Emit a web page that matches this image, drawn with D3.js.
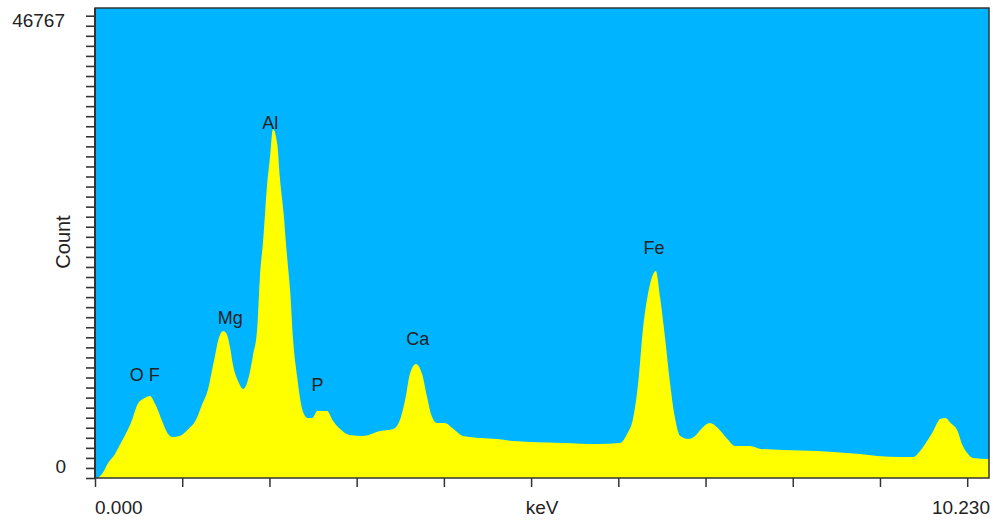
<!DOCTYPE html>
<html>
<head>
<meta charset="utf-8">
<script src="https://cdn.jsdelivr.net/npm/d3@7"></script>
<style>
  html, body { margin: 0; padding: 0; background: #ffffff; }
  svg { display: block; }
  text { font-family: Arial, "Liberation Sans", sans-serif; fill: #222; }
</style>
</head>
<body>
<svg id="chart" width="993" height="520"></svg>
<script>
// EDS spectrum: energy (keV) and counts per channel
const energy = [0.03, 0.08, 0.15, 0.23, 0.29, 0.34, 0.42, 0.49, 0.57, 0.63, 0.69, 0.77, 0.83, 0.89, 0.97,
  1.07, 1.15, 1.23, 1.30, 1.34, 1.38, 1.41, 1.47, 1.51, 1.55, 1.58, 1.64, 1.70, 1.75, 1.81, 1.86, 1.89, 1.93, 1.97,
  2.01, 2.04, 2.09, 2.12, 2.16, 2.20, 2.24, 2.27, 2.32, 2.35, 2.39, 2.44, 2.49, 2.55, 2.66, 2.73, 2.81, 2.92,
  3.07, 3.27, 3.42, 3.50, 3.56, 3.61, 3.68, 3.75, 3.81, 3.86, 3.92, 4.01, 4.11, 4.22, 4.42, 4.61, 4.79, 4.99,
  5.37, 5.76, 6.02, 6.10, 6.17, 6.23, 6.28, 6.34, 6.40, 6.43, 6.48, 6.54, 6.59, 6.65, 6.71, 6.80, 6.88, 6.96,
  7.05, 7.14, 7.25, 7.34, 7.51, 7.63, 7.89, 8.28, 8.46, 8.77, 8.97, 9.23, 9.38, 9.46, 9.54, 9.61, 9.69, 9.75,
  9.81, 9.89, 9.94, 10.00, 10.07, 10.25];
const counts = [0, 400, 1500, 2400, 3380, 4180, 5670, 7360, 7960, 8160, 7360, 5670, 4480, 4080, 4180,
  4880, 5670, 7360, 8960, 10650, 12340, 13630, 14630, 14330, 12940, 11340, 9650, 8860, 9650, 12140, 14930, 19900, 23880, 28860,
  32240, 34730, 33230, 29850, 26570, 22290, 18310, 13930, 9950, 7960, 6470, 5970, 5970, 6670, 6670, 5670, 4880, 4280,
  4180, 4680, 4880, 5870, 7960, 10350, 11340, 10350, 7960, 6170, 5470, 5470, 4880, 4180, 3980, 3880, 3680, 3580,
  3480, 3380, 3480, 4380, 5970, 9650, 14630, 18310, 20300, 20600, 17910, 13630, 9650, 5970, 4180, 3880, 4180, 4980,
  5470, 4980, 3880, 3180, 3180, 2890, 2790, 2690, 2590, 2390, 2190, 2090, 2090, 2690, 3680, 4680, 5870, 5970,
  5470, 4680, 3380, 2490, 1990, 1890];

// Element line labels: name, energy (keV), label baseline height (counts)
const peakNames = ["O F", "Mg", "Al", "P", "Ca", "Fe"];
const peakEnergy = [0.57, 1.55, 2.01, 2.55, 3.70, 6.41];
const peakLabelCounts = [9650, 15320, 34730, 8660, 13230, 22290];

// Axis settings
const countMax = 46767;
const energyMax = 10.25;
const energyTicks = [0, 1, 2, 3, 4, 5, 6, 7, 8, 9, 10];
const countTickStep = 1000;
const xTickLabels = ["0.000", "10.230"];
const yTickLabels = ["0", "46767"];
const xAxisTitle = "keV";
const yAxisTitle = "Count";

const svg = d3.select("#chart");
const plot = { left: 95, top: 8, right: 989, bottom: 478 };

const x = d3.scaleLinear().domain([0, energyMax]).range([plot.left, plot.right]);
const y = d3.scaleLinear().domain([0, countMax]).range([plot.bottom, plot.top]);

// Plot background
svg.append("rect")
  .attr("x", plot.left).attr("y", plot.top)
  .attr("width", plot.right - plot.left).attr("height", plot.bottom - plot.top)
  .attr("fill", "#00b4ff");

// Spectrum fill
const data = energy.map((e, i) => ({ e, c: counts[i] }));
const area = d3.area()
  .x(d => x(d.e))
  .y0(y(0))
  .y1(d => y(d.c))
  .curve(d3.curveMonotoneX);
svg.append("path")
  .datum(data)
  .attr("d", area)
  .attr("fill", "#ffff00");

// Frame
svg.append("rect")
  .attr("x", plot.left).attr("y", plot.top)
  .attr("width", plot.right - plot.left).attr("height", plot.bottom - plot.top)
  .attr("fill", "none").attr("stroke", "#333").attr("stroke-width", 1.5);
svg.append("line")
  .attr("x1", plot.left).attr("x2", plot.left)
  .attr("y1", plot.top).attr("y2", plot.bottom)
  .attr("stroke", "#333").attr("stroke-width", 2);

// Left axis: minor ticks every 1000 counts
const yTickValues = d3.range(0, countMax, countTickStep);
const yAxis = d3.axisLeft(y).tickValues(yTickValues).tickSize(9).tickFormat("");
const gy = svg.append("g").attr("transform", `translate(${plot.left},0)`).call(yAxis);
gy.select(".domain").remove();
gy.selectAll(".tick line").attr("stroke", "#333").attr("stroke-width", 1.6);

// Bottom axis: ticks every keV
const xAxis = d3.axisBottom(x).tickValues(energyTicks).tickSize(9).tickFormat("");
const gx = svg.append("g").attr("transform", `translate(0,${plot.bottom})`).call(xAxis);
gx.select(".domain").remove();
gx.selectAll(".tick line").attr("stroke", "#333").attr("stroke-width", 1.5);

// Axis end labels
svg.append("text").attr("x", 66).attr("y", y(0) - 5)
  .attr("text-anchor", "end").attr("font-size", 19).text(yTickLabels[0]);
svg.append("text").attr("x", 65).attr("y", y(countMax) + 19)
  .attr("text-anchor", "end").attr("font-size", 19).text(yTickLabels[1]);
svg.append("text").attr("x", x(0)).attr("y", 514)
  .attr("text-anchor", "start").attr("font-size", 19).text(xTickLabels[0]);
svg.append("text").attr("x", plot.right + 1).attr("y", 514)
  .attr("text-anchor", "end").attr("font-size", 19).text(xTickLabels[1]);

// Axis titles
svg.append("text").attr("x", 542).attr("y", 514)
  .attr("text-anchor", "middle").attr("font-size", 19).text(xAxisTitle);
svg.append("text")
  .attr("transform", "translate(70,242) rotate(-90)")
  .attr("text-anchor", "middle").attr("font-size", 20).text(yAxisTitle);

// Element labels
svg.append("g").selectAll("text")
  .data(peakNames)
  .join("text")
  .attr("x", (d, i) => x(peakEnergy[i]))
  .attr("y", (d, i) => y(peakLabelCounts[i]))
  .attr("text-anchor", "middle")
  .attr("font-size", 18)
  .attr("fill", "#111")
  .text(d => d);
</script>
</body>
</html>
